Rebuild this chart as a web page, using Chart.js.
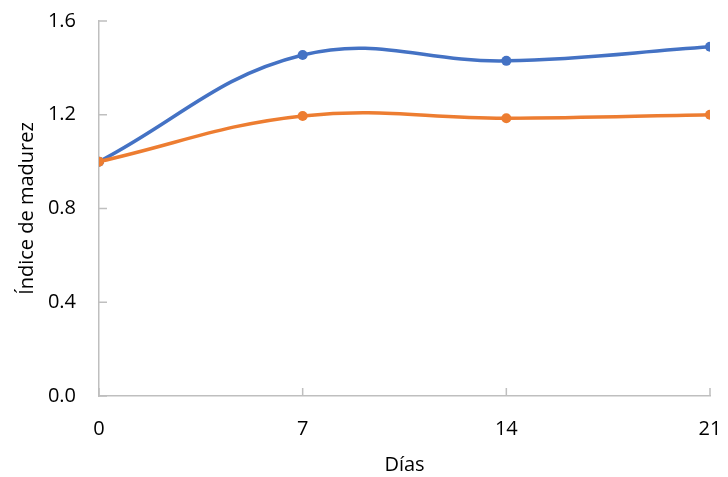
<!DOCTYPE html>
<html>
<head>
<meta charset="utf-8">
<script src="https://cdn.jsdelivr.net/npm/chart.js@4"></script>
<style>
  html, body { margin: 0; padding: 0; background: #fff; }
  #wrap { width: 728px; height: 477px; }
</style>
</head>
<body>
<div id="wrap"><canvas id="chart" width="728" height="477"></canvas></div>
<script>
const days = [0, 7, 14, 21];
const serieAzul = [1.0, 1.455, 1.43, 1.49];
const serieNaranja = [1.0, 1.195, 1.185, 1.2];
const xTicks = [0, 7, 14, 21];
const yTicks = [0, 0.4, 0.8, 1.2, 1.6];

const fontFam = "'Open Sans', Lato, sans-serif";
const axisGray = "#bfbfbf";

function toPoints(vals) {
  return days.map(function (d, i) { return { x: d, y: vals[i] }; });
}

// ticks drawn inward, like the original
const innerTicks = {
  id: "innerTicks",
  afterDraw: function (chart) {
    const ctx = chart.ctx;
    const xs = chart.scales.x;
    const ys = chart.scales.y;
    ctx.save();
    ctx.strokeStyle = axisGray;
    ctx.lineWidth = 1.5;
    ctx.beginPath();
    yTicks.forEach(function (v) {
      const py = ys.getPixelForValue(v);
      ctx.moveTo(xs.left, py);
      ctx.lineTo(xs.left + 8, py);
    });
    xTicks.forEach(function (v) {
      const px = xs.getPixelForValue(v);
      ctx.moveTo(px, ys.bottom);
      ctx.lineTo(px, ys.bottom - 8);
    });
    ctx.stroke();
    ctx.restore();
  }
};

new Chart(document.getElementById("chart"), {
  type: "line",
  data: {
    datasets: [
      {
        label: "Serie 1",
        data: toPoints(serieAzul),
        borderColor: "#4472c4",
        backgroundColor: "#4472c4",
        borderWidth: 3.5,
        pointRadius: 5,
        pointBorderWidth: 0,
        tension: 0.4,
        order: 1
      },
      {
        label: "Serie 2",
        data: toPoints(serieNaranja),
        borderColor: "#ed7d31",
        backgroundColor: "#ed7d31",
        borderWidth: 3.5,
        pointRadius: 5,
        pointBorderWidth: 0,
        tension: 0.4,
        order: 0
      }
    ]
  },
  options: {
    responsive: false,
    animation: false,
    layout: { padding: { top: 21, right: 18, left: 0, bottom: 0 } },
    plugins: {
      legend: { display: false },
      tooltip: { enabled: false }
    },
    scales: {
      x: {
        type: "linear",
        min: 0,
        max: 21,
        afterFit: function (scale) { scale.height = 81; },
        afterBuildTicks: function (scale) {
          scale.ticks = xTicks.map(function (v) { return { value: v }; });
        },
        // grid hidden; tickLength only used as label offset
        grid: { display: false, drawTicks: true, tickLength: 21 },
        border: { display: true, color: axisGray, width: 1.5 },
        ticks: {
          padding: 0,
          maxRotation: 0,
          color: "#000",
          font: { family: fontFam, size: 20 }
        },
        title: {
          display: true,
          text: "Días",
          color: "#000",
          font: { family: fontFam, size: 20 },
          padding: { top: 0, bottom: 0 }
        }
      },
      y: {
        min: 0,
        max: 1.6,
        afterFit: function (scale) { scale.width = 99; },
        afterBuildTicks: function (scale) {
          scale.ticks = yTicks.map(function (v) { return { value: v }; });
        },
        grid: { display: false, drawTicks: true, tickLength: 23 },
        border: { display: true, color: axisGray, width: 1.5 },
        ticks: {
          padding: 0,
          color: "#000",
          font: { family: fontFam, size: 20 },
          callback: function (v) { return v.toFixed(1); }
        },
        title: {
          display: true,
          text: "Índice de madurez",
          color: "#000",
          font: { family: fontFam, size: 20 },
          padding: { top: 15, bottom: 0 }
        }
      }
    }
  },
  plugins: [innerTicks]
});
</script>
</body>
</html>
